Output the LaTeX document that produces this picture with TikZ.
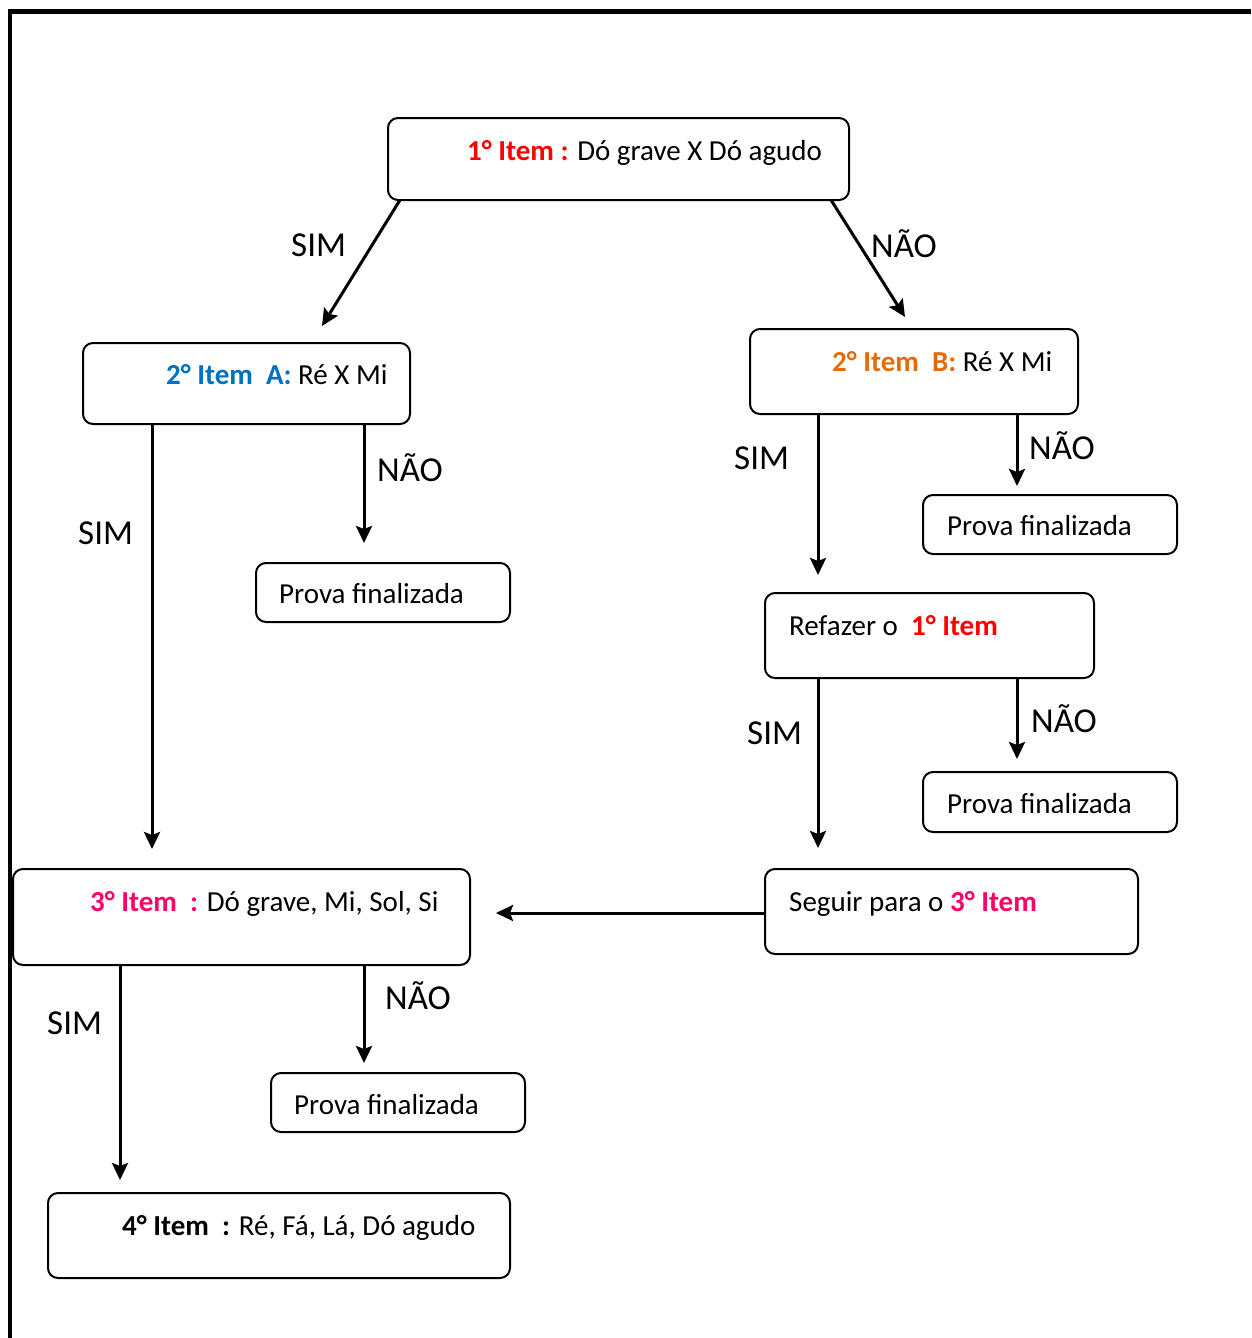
\documentclass[tikz,border=0pt]{standalone}
\usepackage{fontspec}
\setmainfont{Carlito}
\usetikzlibrary{arrows.meta}
\definecolor{cred}{HTML}{FF0000}
\definecolor{cblue}{HTML}{0070C0}
\definecolor{corange}{HTML}{E36C09}
\definecolor{cpink}{HTML}{FF0066}
\tikzset{
  box/.style={draw, line width=2pt, rounded corners=10pt, inner sep=0pt},
  txt/.style={anchor=base west, inner sep=0pt, font=\fontsize{29}{34}\selectfont},
  lbl/.style={anchor=base west, inner sep=0pt, font=\fontsize{35}{40}\selectfont},
  arr/.style={line width=3pt, -{Stealth[length=17pt,width=16pt,inset=3pt]}},
}
\begin{document}
\begin{tikzpicture}[x=1pt,y=-1pt]
\useasboundingbox (0,0) rectangle (1251,1338);
% frame
\draw[line width=4.5pt, line join=miter] (10,1338) -- (10,11.5) -- (1251,11.5);
% boxes
\node[box, minimum width=461pt, minimum height=82pt] (b1) at (618.5,159) {};
\node[box, minimum width=327pt, minimum height=81pt] (b2a) at (246.5,383.5) {};
\node[box, minimum width=328pt, minimum height=85pt] (b2b) at (914,371.5) {};
\node[box, minimum width=254pt, minimum height=59pt] (pf1) at (383,592.5) {};
\node[box, minimum width=254pt, minimum height=59pt] (pf2) at (1050,524.5) {};
\node[box, minimum width=329pt, minimum height=85pt] (ref) at (929.5,635.5) {};
\node[box, minimum width=254pt, minimum height=60pt] (pf3) at (1050,802) {};
\node[box, minimum width=457pt, minimum height=96pt] (b3) at (241.5,917) {};
\node[box, minimum width=373pt, minimum height=85pt] (seg) at (951.5,911.5) {};
\node[box, minimum width=254pt, minimum height=59pt] (pf4) at (398,1102.5) {};
\node[box, minimum width=462pt, minimum height=85pt] (b4) at (279,1235.5) {};
% texts
\node[txt] (t1) at (467,160) {\textbf{\color{cred}1° Item :} Dó grave X Dó agudo};
\node[txt] (t2a) at (166,384) {\textbf{\color{cblue}2° Item\ \ A:} Ré X Mi};
\node[txt] (t2b) at (832,371) {\textbf{\color{corange}2° Item\ \ B:} Ré X Mi};
\node[txt] (tpf1) at (279,603) {Prova finalizada};
\node[txt] (tpf2) at (947,535) {Prova finalizada};
\node[txt] (tref) at (789,635) {Refazer o\ \ \textbf{\color{cred}1° Item}};
\node[txt] (tpf3) at (947,813) {Prova finalizada};
\node[txt] (t3) at (90,911) {\textbf{\color{cpink}3° Item\ \ :} Dó grave, Mi, Sol, Si};
\node[txt] (tseg) at (789,911) {Seguir para o \textbf{\color{cpink}3° Item}};
\node[txt] (tpf4) at (294,1114) {Prova finalizada};
\node[txt] (t4) at (122,1235) {\textbf{4° Item\ \ :} Ré, Fá, Lá, Dó agudo};
% arrow end points
\coordinate (s1) at (400,200);  \coordinate (e1) at (322,326);
\coordinate (s2) at (831,200);  \coordinate (e2) at (905,317);
\coordinate (s3) at (152,424);  \coordinate (e3) at (152,849);
\coordinate (s4) at (364,424);  \coordinate (e4) at (364,543);
\coordinate (s5) at (818,414);  \coordinate (e5) at (818,575);
\coordinate (s6) at (1017,414); \coordinate (e6) at (1017,486);
\coordinate (s7) at (818,678);  \coordinate (e7) at (818,848);
\coordinate (s8) at (1017,678); \coordinate (e8) at (1017,759);
\coordinate (s9) at (765,913);  \coordinate (e9) at (496,913);
\coordinate (s10) at (120,965); \coordinate (e10) at (120,1180);
\coordinate (s11) at (364,965); \coordinate (e11) at (364,1063);
\draw[arr] (s1) -- (e1);
\draw[arr] (s2) -- (e2);
\draw[arr] (s3) -- (e3);
\draw[arr] (s4) -- (e4);
\draw[arr] (s5) -- (e5);
\draw[arr] (s6) -- (e6);
\draw[arr] (s7) -- (e7);
\draw[arr] (s8) -- (e8);
\draw[arr] (s9) -- (e9);
\draw[arr] (s10) -- (e10);
\draw[arr] (s11) -- (e11);
% labels
\node[lbl] (l1) at (291,256) {SIM};
\node[lbl] (l2) at (871,257) {NÃO};
\node[lbl] (l3) at (78,544) {SIM};
\node[lbl] (l4) at (377,481) {NÃO};
\node[lbl] (l5) at (734,469) {SIM};
\node[lbl] (l6) at (1029,459) {NÃO};
\node[lbl] (l7) at (747,744) {SIM};
\node[lbl] (l8) at (1031,732) {NÃO};
\node[lbl] (l9) at (47,1034) {SIM};
\node[lbl] (l10) at (385,1009) {NÃO};
\end{tikzpicture}
\end{document}
